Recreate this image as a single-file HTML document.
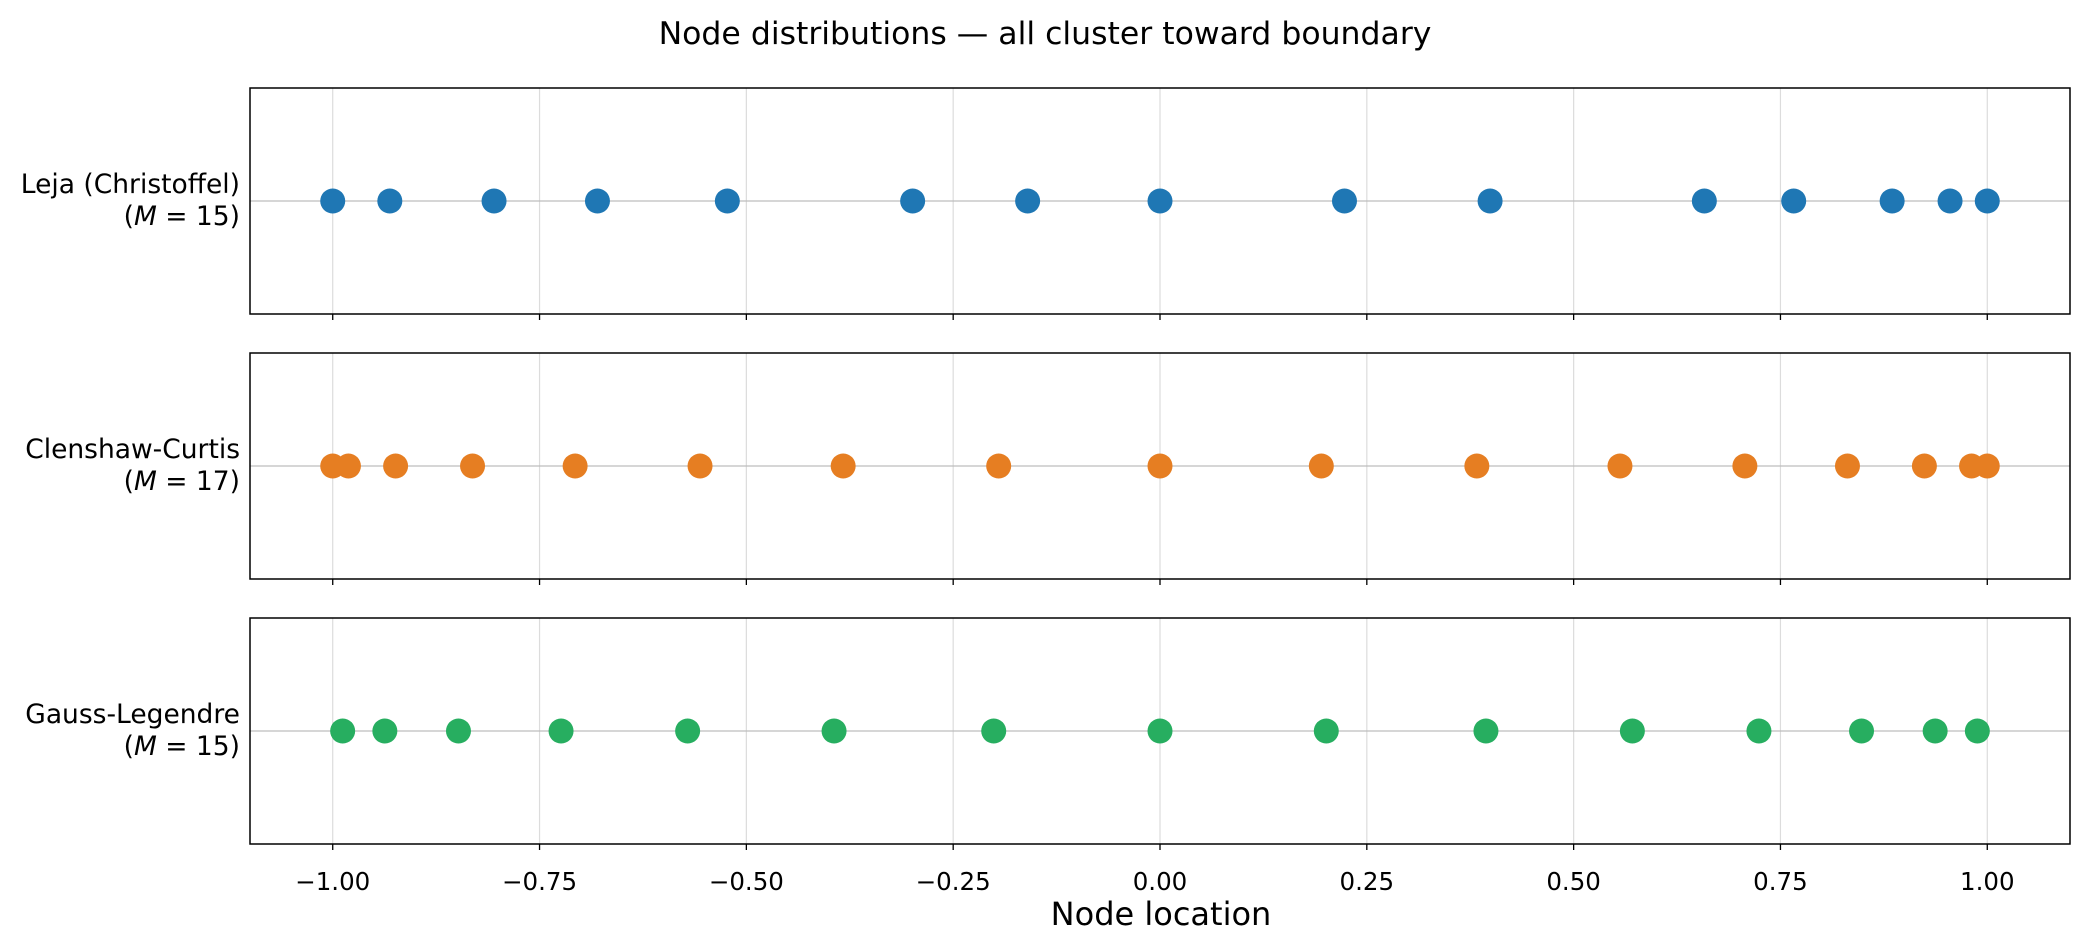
<!DOCTYPE html>
<html><head><meta charset="utf-8">
<style>
body{margin:0;background:#fff;}
svg{display:block;font-family:"DejaVu Sans","Liberation Sans",sans-serif;}
</style></head>
<body>
<svg id="chart" width="2090" height="951" viewBox="0 0 2090 951" xmlns="http://www.w3.org/2000/svg">
<rect width="2090" height="951" fill="#fff"/>
<text x="1045" y="44" text-anchor="middle" font-size="31.5" fill="#000">Node distributions — all cluster toward boundary</text>
<text x="1161" y="925" text-anchor="middle" font-size="32" fill="#000">Node location</text>
<g id="plots"></g>
</svg>
<script>
const xTicks = [-1.00, -0.75, -0.50, -0.25, 0.00, 0.25, 0.50, 0.75, 1.00];
const xTickLabels = ["−1.00","−0.75","−0.50","−0.25","0.00","0.25","0.50","0.75","1.00"];
const seriesNames = ["Leja (Christoffel)", "Clenshaw-Curtis", "Gauss-Legendre"];
const seriesM = [15, 17, 15];
const lejaNodes = [-1, -0.931, -0.805, -0.680, -0.523, -0.299, -0.160, 0, 0.223, 0.399, 0.658, 0.766, 0.885, 0.955, 1];
const ccNodes = [-1, -0.981, -0.924, -0.831, -0.707, -0.556, -0.383, -0.195, 0, 0.195, 0.383, 0.556, 0.707, 0.831, 0.924, 0.981, 1];
const glNodes = [-0.988, -0.937, -0.848, -0.724, -0.571, -0.394, -0.201, 0, 0.201, 0.394, 0.571, 0.724, 0.848, 0.937, 0.988];
const colors = ["#1f77b4", "#e67e22", "#27ae60"];

const NS = "http://www.w3.org/2000/svg";
const xMin = -1.1, xMax = 1.1;
function X(v){ return 250 + (v - xMin) / (xMax - xMin) * (2070 - 250); }
const panelTop = [88, 353, 618], panelH = 226;
const allNodes = [lejaNodes, ccNodes, glNodes];
const g = document.getElementById('plots');
function mk(tag, attrs, parent){ const e = document.createElementNS(NS, tag); for (const k in attrs) e.setAttribute(k, attrs[k]); (parent||g).appendChild(e); return e; }

allNodes.forEach((nodes, i) => {
  const top = panelTop[i], cy = top + panelH / 2;
  const pg = mk('g', {});
  
  
  xTicks.forEach(t => {
    const gl = mk('line', {x1: X(t), x2: X(t), y1: top, y2: top + panelH, stroke: '#dcdcdc', 'stroke-width': 1.2}, pg);
    
    
    const tk = mk('line', {x1: X(t), x2: X(t), y1: top + panelH, y2: top + panelH + 6, stroke: '#000', 'stroke-width': 1.3}, pg);
    
    
  });
  const zl = mk('line', {x1: X(xMin), x2: X(xMax), y1: cy, y2: cy, stroke: '#bdbdbd', 'stroke-width': 1.2}, pg);
  
  
  nodes.forEach(v => {
    const c = mk('circle', {cx: X(v), cy: cy, r: 12.5, fill: colors[i]}, pg);
    
    
  });
  const fr = mk('rect', {x: X(xMin), y: top, width: X(xMax) - X(xMin), height: panelH, fill: 'none', stroke: '#000', 'stroke-width': 1.5}, pg);
  
  
  const t1 = mk('text', {x: 240, y: cy - 8, 'text-anchor': 'end', 'font-size': 26.5, fill: '#000'}, pg);
  t1.textContent = seriesNames[i];
  
  
  const t2 = mk('text', {x: 240, y: cy + 24, 'text-anchor': 'end', 'font-size': 26.5, fill: '#000'}, pg);
  t2.innerHTML = '(<tspan font-style="italic">M</tspan> = ' + seriesM[i] + ')';
  
  
});
xTicks.forEach((t, j) => {
  const tl = mk('text', {x: X(t), y: 890, 'text-anchor': 'middle', 'font-size': 24.5, fill: '#000'});
  tl.textContent = xTickLabels[j];
  
  
});
</script>
</body></html>
